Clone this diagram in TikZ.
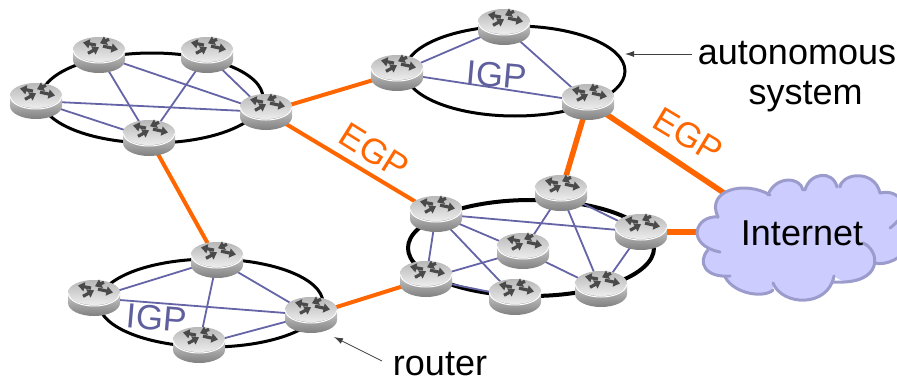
\documentclass[tikz,border=0pt]{standalone}
\usepackage{fontspec}
\setmainfont{Liberation Sans}
\usetikzlibrary{arrows.meta,backgrounds}
\definecolor{egp}{HTML}{FF6600}
\definecolor{igp}{HTML}{6464A6}
\definecolor{igptext}{HTML}{5F5F9E}
\definecolor{cloudfill}{HTML}{CCCCFF}
\definecolor{cloudline}{HTML}{9C9CCC}
\definecolor{rarrow}{HTML}{4A4A4A}
\tikzset{
  ring/.style={draw=black,line width=3pt},
  igplink/.style={draw=igp,line width=1.8pt},
  egplink/.style={draw=egp,line width=4pt},
  egpthick/.style={draw=egp,line width=5.5pt},
  cloudedge/.style={draw=cloudline,line width=3pt,line cap=round},
  note/.style={draw=black!75,line width=0.8pt,-{Latex[length=9pt,width=6pt]}},
  routernode/.style={inner sep=0pt,minimum width=52pt,minimum height=37pt},
  big/.style={font=\fontsize{36}{40}\selectfont,inner sep=0pt,anchor=base},
  igplabel/.style={font=\fontsize{35}{40}\selectfont,text=igptext,inner sep=0pt,rotate=-5},
  egplabel/.style={font=\fontsize{35}{38}\selectfont,text=egp,inner sep=0pt},
  rarrowline/.style={draw=rarrow,line width=3.2pt,-{Triangle[length=6.5pt,width=9pt]}},
  routerpic/.pic={
    \shade[top color=white!90!black,bottom color=black!50,middle color=black!27]
      (-26,-5) -- (-26,5) arc[start angle=180,end angle=0,x radius=26,y radius=13]
      -- (26,-5) arc[start angle=0,end angle=-180,x radius=26,y radius=13] -- cycle;
    \shade[top color=black!28,bottom color=black!7]
      (0,-5.5) ellipse[x radius=26,y radius=12.5];
    \draw[white,line width=1pt]
      (-25.5,-4.5) arc[start angle=180,end angle=0,x radius=25.5,y radius=12.5];
    \begin{scope}[yshift=6.7pt]
      \draw[rarrowline] (-3,-3.2) -- (-16,-5.8);
      \draw[rarrowline] (4,-2.2) -- (19,1.2);
      \draw[rarrowline] (10,-9) -- (1,-5);
      \draw[rarrowline] (-11,5) -- (0,-1);
    \end{scope}
  }
}
\newcommand{\router}[2]{\node[routernode] (#1) at (#2) {}; \pic at (#2) {routerpic};}
\begin{document}
\begin{tikzpicture}[x=1pt,y=-1pt]
\useasboundingbox (0,0) rectangle (897,380);
\clip (0,0) rectangle (897,380);
% routers
\router{a1}{99,55}
\router{a2}{207,55}
\router{a3}{36,101}
\router{a4}{266,112}
\router{a5}{149,138}
\router{b1}{504,27}
\router{b2}{397,73}
\router{b3}{588,102}
\router{c1}{436,214}
\router{c2}{561,193}
\router{c3}{641,232}
\router{c4}{523,251}
\router{c5}{426,279}
\router{c6}{515,297}
\router{c7}{601,289}
\router{d1}{217,260}
\router{d2}{94,298}
\router{d3}{311,315}
\router{d4}{199,345}
% cloud
\coordinate (cloudtop) at (730,197);
\coordinate (cloudleft) at (700,232);
\fill[cloudfill]
  (718,217) .. controls (705,190) and (745,180) .. (770,195)
  .. controls (775,176) and (800,176) .. (803,190)
  .. controls (810,172) and (833,170) .. (837,187)
  .. controls (843,172) and (875,170) .. (880,193)
  .. controls (900,188) and (915,210) .. (910,240)
  -- (907,245) .. controls (905,258) and (885,266) .. (875,263)
  -- (872,273) .. controls (860,285) and (845,285) .. (834,276)
  .. controls (828,308) and (782,306) .. (773,283)
  -- (773,290) .. controls (765,298) and (735,295) .. (725,277)
  -- (730,276) .. controls (705,278) and (697,262) .. (708,250)
  -- (720,252) .. controls (685,245) and (695,215) .. (718,217) -- cycle;
\draw[cloudedge] (718,217) .. controls (705,190) and (745,180) .. (770,195);
\draw[cloudedge] (768,195) .. controls (775,176) and (800,176) .. (803,190);
\draw[cloudedge] (805,190) .. controls (810,172) and (833,170) .. (837,187);
\draw[cloudedge] (840,187) .. controls (843,172) and (875,170) .. (880,193);
\draw[cloudedge] (880,193) .. controls (900,188) and (915,210) .. (890,228);
\draw[cloudedge] (875,263) .. controls (885,266) and (905,258) .. (907,245);
\draw[cloudedge] (863,243) .. controls (880,250) and (885,285) .. (833,282);
\draw[cloudedge] (773,283) .. controls (782,306) and (828,308) .. (834,276);
\draw[cloudedge] (725,277) .. controls (735,295) and (765,298) .. (773,290);
\draw[cloudedge] (708,250) .. controls (697,262) and (705,278) .. (730,276);
\draw[cloudedge] (718,217) .. controls (695,215) and (685,245) .. (720,252);
% texts
\node[big] (inet) at (802,245) {Internet};
\node[big] (as1) at (797,64) {autonomous};
\node[big] (as2) at (805.5,104) {system};
\node[big] (rt) at (440,375) {router};
\node[igplabel] (igpa) at (497,75) {IGP};
\node[igplabel] (igpb) at (157,318) {IGP};
\node[egplabel,rotate=-32] (egpa) at (374,151) {EGP};
\node[egplabel,rotate=-31] (egpb) at (688,135) {EGP};
\coordinate (asfrom) at (692,54);
\coordinate (asto) at (625,54);
\coordinate (rtfrom) at (382,361);
\coordinate (rtto) at (334,337);
\draw[note] (asfrom) -- (asto);
\draw[note] (rtfrom) -- (rtto);
% rings and links beneath the routers
\begin{scope}[on background layer]
  \draw[ring] (152,98) ellipse[x radius=111,y radius=45];
  \draw[ring] (515,71) ellipse[x radius=110,y radius=45];
  \draw[ring,line width=4pt] (531,248) ellipse[x radius=123,y radius=48];
  \draw[ring] (211,303) ellipse[x radius=112,y radius=44];
  \draw[igplink] (a1.center) -- (a4.center);
  \draw[igplink] (a1.center) -- (a5.center);
  \draw[igplink] (a2.center) -- (a5.center);
  \draw[igplink] (a2.center) -- (a4.center);
  \draw[igplink] (a3.center) -- (a4.center);
  \draw[igplink] (a3.center) -- (a5.center);
  \draw[igplink] (b1.center) -- (b2.center);
  \draw[igplink] (b1.center) -- (b3.center);
  \draw[igplink] (b2.center) -- (b3.center);
  \draw[igplink] (c1.center) -- (c3.center);
  \draw[igplink] (c1.center) -- (c4.center);
  \draw[igplink] (c1.center) -- (c5.center);
  \draw[igplink] (c1.center) -- (c6.center);
  \draw[igplink] (c2.center) -- (c4.center);
  \draw[igplink] (c2.center) -- (c7.center);
  \draw[igplink] (c2.center) -- (c3.center);
  \draw[igplink] (c3.center) -- (c7.center);
  \draw[igplink] (c4.center) -- (c7.center);
  \draw[igplink] (c4.center) -- (c5.center);
  \draw[igplink] (c5.center) -- (c6.center);
  \draw[igplink] (d1.center) -- (d2.center);
  \draw[igplink] (d1.center) -- (d3.center);
  \draw[igplink] (d1.center) -- (d4.center);
  \draw[igplink] (d2.center) -- (d3.center);
  \draw[igplink] (d3.center) -- (d4.center);
  \draw[egplink] (a5.center) -- (d1.center);
  \draw[egplink] (a4.center) -- (b2.center);
  \draw[egplink] (a4.center) -- (c1.center);
  \draw[egplink] (d3.center) -- (c5.center);
  \draw[egpthick] (b3.center) -- (c2.center);
  \draw[egpthick] (b3.center) -- (cloudtop);
  \draw[egpthick] (c3.center) -- (cloudleft);
\end{scope}
\end{tikzpicture}
\end{document}
